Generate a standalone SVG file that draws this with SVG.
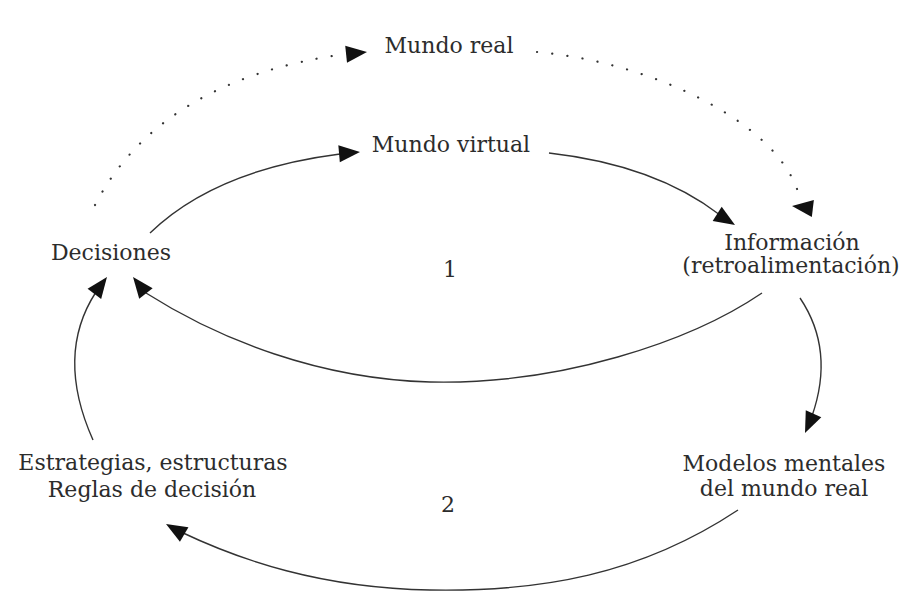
<svg xmlns="http://www.w3.org/2000/svg" xmlns:xlink="http://www.w3.org/1999/xlink" width="899" height="592" viewBox="0 0 899 592">
  <style>
    .lbl { font-family: "DejaVu Serif", "Liberation Serif", serif; font-size: 22px; fill: #2c2c2c; text-anchor: middle; }
    .line { fill: none; stroke: #333; stroke-width: 1.4; }
    .dots { fill: none; stroke: #333; stroke-width: 2.2; stroke-linecap: round; stroke-dasharray: 0.1 15.2; }
    .head { fill: #111; }
  </style>
  <defs>
    <!-- arrowhead with its tip at the origin, pointing along +x -->
    <path id="head" class="head" d="M0,0 L-21,-8.5 L-21,8.5 Z"/>
  </defs>
  <rect width="899" height="592" fill="#fff"/>

  <g id="connectors">
    <!-- Decisiones to Mundo real (dotted) -->
    <path class="dots" d="M95,205 Q160,80 345,54"/>
    <use xlink:href="#head" href="#head" transform="translate(367,52) rotate(-6)"/>
    <!-- Mundo real to Informacion (dotted) -->
    <path class="dots" d="M537,52 C650,62 772,120 797,189"/>
    <use xlink:href="#head" href="#head" transform="translate(792,206) rotate(187)"/>
    <!-- Decisiones to Mundo virtual -->
    <path class="line" d="M150,233 Q215,170 340,154"/>
    <use xlink:href="#head" href="#head" transform="translate(360,152) rotate(-5)"/>
    <!-- Mundo virtual to Informacion -->
    <path class="line" d="M549,153 Q655,165 720,215"/>
    <use xlink:href="#head" href="#head" transform="translate(735,225) rotate(32)"/>
    <!-- Informacion back to Decisiones (loop 1) -->
    <path class="line" d="M762,293 C690,342 560,385 430,382 C320,379 220,340 146,293"/>
    <use xlink:href="#head" href="#head" transform="translate(133,277) rotate(-128)"/>
    <!-- Estrategias to Decisiones -->
    <path class="line" d="M93,440 Q55,355 96,292"/>
    <use xlink:href="#head" href="#head" transform="translate(107,277) rotate(-53)"/>
    <!-- Informacion to Modelos mentales -->
    <path class="line" d="M800,298 Q835,350 812,416"/>
    <use xlink:href="#head" href="#head" transform="translate(805,433) rotate(114)"/>
    <!-- Modelos mentales back to Estrategias (loop 2) -->
    <path class="line" d="M738,510 C640,575 540,592 430,590 C320,588 240,560 181,532"/>
    <use xlink:href="#head" href="#head" transform="translate(166,524) rotate(-150)"/>
  </g>

  <g id="mundo-real"><text class="lbl" x="449" y="53">Mundo real</text></g>
  <g id="mundo-virtual"><text class="lbl" x="451" y="152">Mundo virtual</text></g>
  <g id="decisiones"><text class="lbl" x="111" y="260">Decisiones</text></g>
  <g id="informacion">
    <text class="lbl" x="792" y="250">Información</text>
    <text class="lbl" x="791" y="273">(retroalimentación)</text>
  </g>
  <g id="estrategias">
    <text class="lbl" x="153" y="470">Estrategias, estructuras</text>
    <text class="lbl" x="152" y="497">Reglas de decisión</text>
  </g>
  <g id="modelos-mentales">
    <text class="lbl" x="784" y="471">Modelos mentales</text>
    <text class="lbl" x="784" y="496">del mundo real</text>
  </g>
  <g id="loop-1"><text class="lbl" x="450" y="277">1</text></g>
  <g id="loop-2"><text class="lbl" x="448" y="512">2</text></g>
</svg>
